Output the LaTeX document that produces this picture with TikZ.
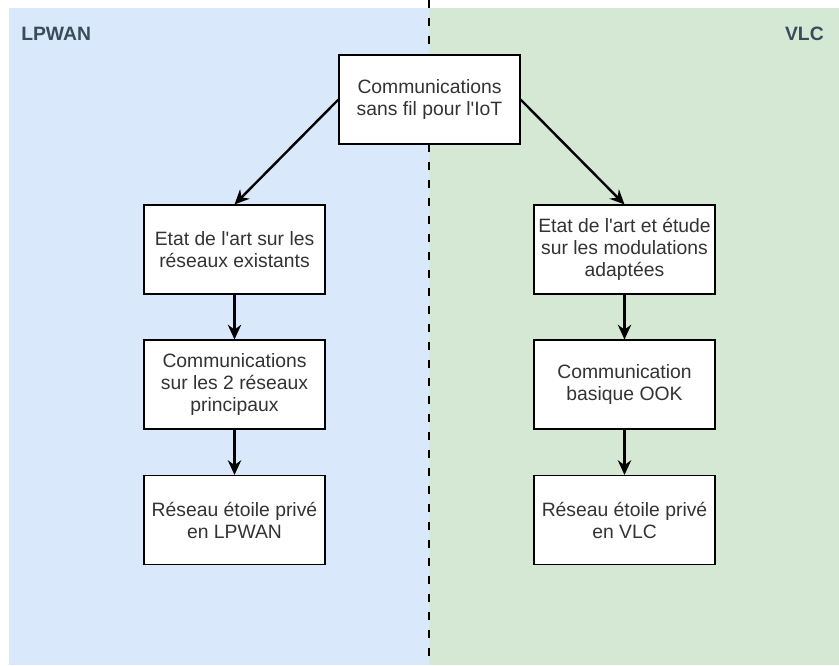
\documentclass[tikz,border=0pt]{standalone}
\usepackage{fontspec}
\setmainfont{Liberation Sans}
\usetikzlibrary{arrows.meta}
\definecolor{bluebg}{HTML}{DAE8FC}
\definecolor{greenbg}{HTML}{D5E8D4}
\definecolor{labelc}{HTML}{3A4C5C}
\definecolor{txtc}{HTML}{333333}
\newcommand{\sq}{\textquotesingle}
\tikzset{
  stepbox/.style={draw=black, line width=0.8pt, fill=white, minimum width=135.75pt, minimum height=66.75pt,
    inner sep=0pt, align=center, text=txtc, font=\fontsize{14.5}{16.5}\selectfont},
  conn/.style={draw=black, line width=1.8pt, -{Stealth[length=11pt,width=10pt]}},
  lanelabel/.style={text=labelc, font=\bfseries\fontsize{14.5}{16.5}\selectfont, inner sep=0pt}
}
\begin{document}
\begin{tikzpicture}[x=0.75pt,y=-0.75pt]
\useasboundingbox (0,0) rectangle (839,665);
\fill[bluebg] (9,8) rectangle (429,665);
\fill[greenbg] (429,8) rectangle (839,665);
\draw[black, line width=2pt, dash pattern=on 6pt off 7.5pt] (429,0) -- (429,665);
\node[lanelabel, anchor=west] (lpwan) at (21,34) {LPWAN};
\node[lanelabel, anchor=east] (vlc) at (824,34) {VLC};
\node[stepbox] (top) at (429.5,99.5) {Communications\\sans fil pour l\sq IoT};
\node[stepbox] (l1) at (234.5,249.5) {Etat de l\sq art sur les\\réseaux existants};
\node[stepbox] (l2) at (234.5,384.5) {Communications\\sur les 2 réseaux\\principaux};
\node[stepbox] (l3) at (234.5,520) {Réseau étoile privé\\en LPWAN};
\node[stepbox] (r1) at (624.5,249.5) {Etat de l\sq art et étude\\sur les modulations\\adaptées};
\node[stepbox] (r2) at (624.5,384.5) {Communication\\basique OOK};
\node[stepbox] (r3) at (624.5,520) {Réseau étoile privé\\en VLC};
\draw[conn] (top.west) -- (l1.north);
\draw[conn] (top.east) -- (r1.north);
\draw[conn] (l1) -- (l2);
\draw[conn] (l2) -- (l3);
\draw[conn] (r1) -- (r2);
\draw[conn] (r2) -- (r3);
\end{tikzpicture}
\end{document}
